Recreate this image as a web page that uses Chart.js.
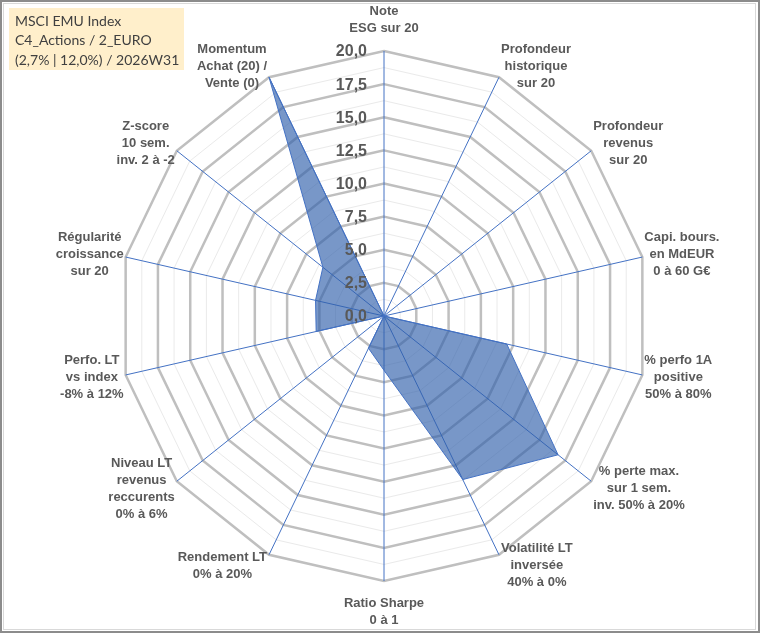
<!DOCTYPE html>
<html>
<head>
<meta charset="utf-8">
<script src="https://cdn.jsdelivr.net/npm/chart.js@4.4.1/dist/chart.umd.min.js"></script>
<style>
html,body{margin:0;padding:0;background:#fff;}
canvas{display:block;}
</style>
</head>
<body>
<canvas id="c" width="760" height="633"></canvas>
<script>
const categories = [
  ["Note","ESG sur 20"],
  ["Profondeur","historique","sur 20"],
  ["Profondeur","revenus","sur 20"],
  ["Capi. bours.","en MdEUR","0 à 60 G€"],
  ["% perfo 1A","positive","50% à 80%"],
  ["% perte max.","sur 1 sem.","inv. 50% à 20%"],
  ["Volatilité LT","inversée","40% à 0%"],
  ["Ratio Sharpe","0 à 1"],
  ["Rendement LT","0% à 20%"],
  ["Niveau LT","revenus","reccurents","0% à 6%"],
  ["Perfo. LT","vs index","-8% à 12%"],
  ["Régularité","croissance","sur 20"],
  ["Z-score","10 sem.","inv. 2 à -2"],
  ["Momentum","Achat (20) /","Vente (0)"]
];
const scores = [0, 0, 0, 0, 9.5, 16.8, 13.7, 4.1, 2.7, 0, 5.25, 5.3, 5.9, 20];
const tickValues = [0, 2.5, 5, 7.5, 10, 12.5, 15, 17.5, 20];
const titleLines = ["MSCI EMU Index", "C4_Actions / 2_EURO", "(2,7% | 12,0%) / 2026W31"];

const fmt = v => v.toFixed(1).replace('.', ',');

const decorPlugin = {
  id: 'decor',
  beforeDraw(chart) {
    const ctx = chart.ctx;
    ctx.save();
    ctx.fillStyle = '#ffffff';
    ctx.fillRect(0, 0, chart.width, chart.height);
    ctx.restore();
  },
  afterDatasetsDraw(chart) {
    const ctx = chart.ctx;
    const s = chart.scales.r;
    const R = s.drawingArea;
    // tick labels
    ctx.save();
    ctx.font = 'bold 16px "Liberation Sans", Arial, sans-serif';
    ctx.fillStyle = '#595959';
    ctx.textAlign = 'right';
    ctx.textBaseline = 'middle';
    tickValues.forEach(v => {
      const d = s.getDistanceFromCenterForValue(v);
      ctx.fillText(fmt(v), s.xCenter - 17, s.yCenter - d + 1);
    });
    ctx.restore();

    // point labels
    ctx.save();
    ctx.font = 'bold 13px "Liberation Sans", Arial, sans-serif';
    ctx.fillStyle = '#595959';
    ctx.textAlign = 'center';
    ctx.textBaseline = 'middle';
    const lh = 17;
    const n = chart.data.labels.length;
    chart.data.labels.forEach((lines, i) => {
      const ang = i * 2 * Math.PI / n;
      const sn = Math.sin(ang), cs = Math.cos(ang);
      const p = s.getPointPosition(i, R);
      const w = Math.max(...lines.map(l => ctx.measureText(l).width));
      const h = lines.length * lh;
      let cx, cy;
      if (Math.abs(sn) < 0.01) {
        cx = p.x;
        cy = cs > 0 ? p.y - 14 - h / 2 : p.y + 14 + h / 2;
      } else {
        cx = sn > 0 ? p.x + 2 + w / 2 : p.x - 2 - w / 2;
        cy = p.y - 12 * cs;
      }
      lines.forEach((l, k) => {
        ctx.fillText(l, cx, cy - h / 2 + lh / 2 + k * lh);
      });
    });
    ctx.restore();

    // title box
    ctx.save();
    ctx.fillStyle = '#FFEFCB';
    ctx.fillRect(9, 8, 175, 62);
    ctx.font = '14px Lato, "Open Sans", sans-serif';
    ctx.fillStyle = '#404040';
    ctx.textAlign = 'left';
    ctx.textBaseline = 'middle';
    titleLines.forEach((t, k) => ctx.fillText(t, 15, 21 + k * 19.5));
    ctx.restore();

    // outer border
    ctx.save();
    ctx.strokeStyle = '#d9d9d9';
    ctx.lineWidth = 1;
    ctx.strokeRect(3.5, 3.5, chart.width - 8, chart.height - 7);
    ctx.strokeStyle = '#8c8c8c';
    ctx.lineWidth = 2;
    ctx.strokeRect(1, 1, chart.width - 2, chart.height - 2);
    ctx.restore();
  }
};

new Chart(document.getElementById('c'), {
  type: 'radar',
  data: {
    labels: categories,
    datasets: [{
      data: scores,
      backgroundColor: 'rgba(47,95,170,0.65)',
      borderColor: '#4472C4',
      borderWidth: 1,
      pointRadius: 0,
      pointHoverRadius: 0,
      fill: true
    }]
  },
  options: {
    responsive: false,
    animation: false,
    devicePixelRatio: 1,
    layout: { padding: { left: 119, right: 111, top: 51, bottom: 52 } },
    plugins: { legend: { display: false }, tooltip: { enabled: false } },
    elements: { line: { tension: 0 } },
    scales: {
      r: {
        min: 0,
        max: 20,
        ticks: { stepSize: 1.25, display: false, showLabelBackdrop: false },
        pointLabels: { display: false },
        grid: {
          color: ctx => (ctx.tick && Math.abs(ctx.tick.value / 2.5 - Math.round(ctx.tick.value / 2.5)) < 1e-6) ? '#bfbfbf' : '#eaeaea',
          lineWidth: ctx => (ctx.tick && Math.abs(ctx.tick.value / 2.5 - Math.round(ctx.tick.value / 2.5)) < 1e-6) ? 2.5 : 1
        },
        angleLines: { color: '#4472C4', lineWidth: 1 }
      }
    }
  },
  plugins: [decorPlugin]
});
</script>
</body>
</html>
